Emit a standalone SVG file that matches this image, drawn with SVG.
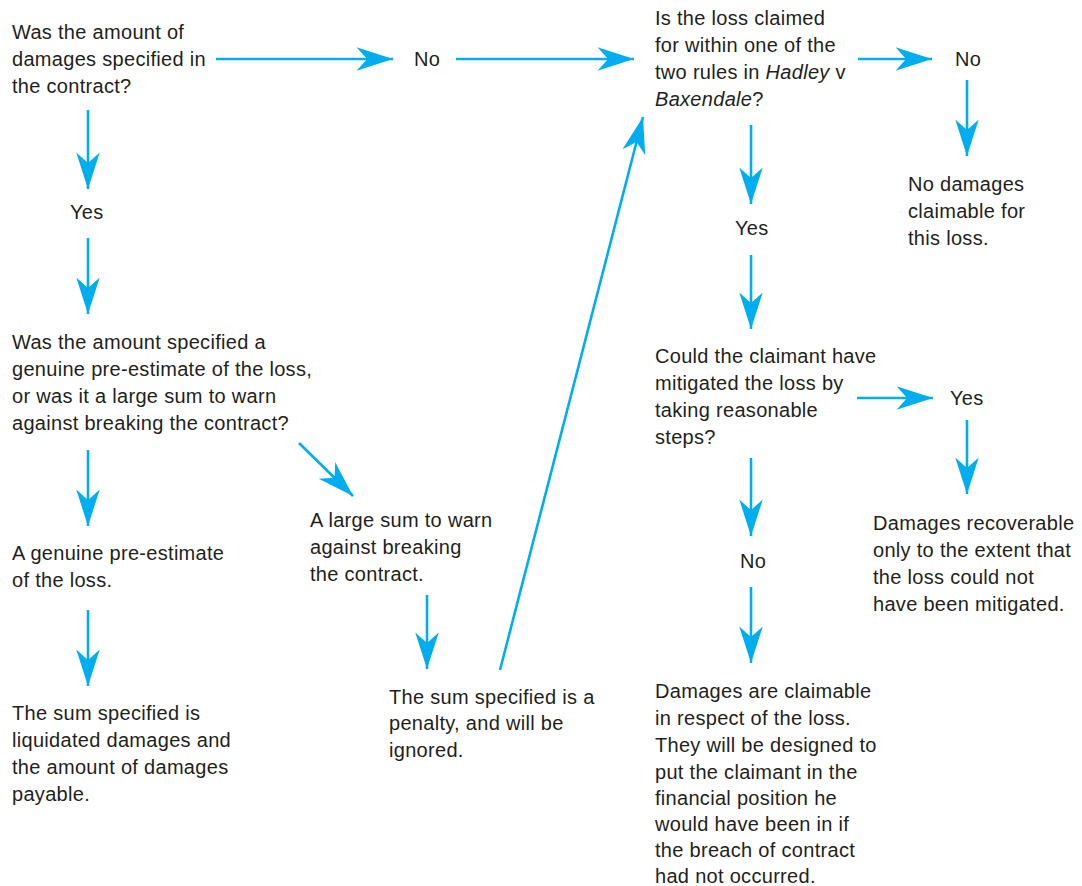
<svg xmlns="http://www.w3.org/2000/svg" width="1082" height="886" viewBox="0 0 1082 886">
<defs>
<style>
text{font-family:"Liberation Sans",Arial,sans-serif;font-size:20px;letter-spacing:0.3px;fill:#231f20}
.c line{stroke:#00aeef;stroke-width:2.6;fill:none}
</style>
<marker id="ah" markerUnits="userSpaceOnUse" markerWidth="40" markerHeight="30" viewBox="-32 -12 34 24" refX="0" refY="0" orient="auto">
<path d="M0,0 L-31,-10 L-22,0 L-31,10 Z" fill="#00aeef"/>
</marker>
</defs>
<rect width="1082" height="886" fill="#ffffff"/>
<g class="c" id="connectors">
<line x1="216" y1="59" x2="393" y2="59" marker-end="url(#ah)"/>
<line x1="456" y1="59" x2="634" y2="59" marker-end="url(#ah)"/>
<line x1="858" y1="59" x2="932" y2="59" marker-end="url(#ah)"/>
<line x1="967" y1="80" x2="967" y2="156" marker-end="url(#ah)"/>
<line x1="88" y1="110" x2="88" y2="189" marker-end="url(#ah)"/>
<line x1="88" y1="238" x2="88" y2="314" marker-end="url(#ah)"/>
<line x1="88" y1="450" x2="88" y2="526" marker-end="url(#ah)"/>
<line x1="88" y1="610" x2="88" y2="686" marker-end="url(#ah)"/>
<line x1="299" y1="443" x2="353" y2="496" marker-end="url(#ah)"/>
<line x1="427" y1="595" x2="427" y2="669" marker-end="url(#ah)"/>
<line x1="500" y1="670" x2="643" y2="117" marker-end="url(#ah)"/>
<line x1="751" y1="125" x2="751" y2="204" marker-end="url(#ah)"/>
<line x1="751" y1="255" x2="751" y2="329" marker-end="url(#ah)"/>
<line x1="857" y1="398" x2="933" y2="398" marker-end="url(#ah)"/>
<line x1="967" y1="420" x2="967" y2="494" marker-end="url(#ah)"/>
<line x1="751" y1="458" x2="751" y2="536" marker-end="url(#ah)"/>
<line x1="751" y1="587" x2="751" y2="663" marker-end="url(#ah)"/>
</g>
<g id="q1"><text x="12" y="39">Was the amount of</text><text x="12" y="66">damages specified in</text><text x="12" y="93">the contract?</text></g>
<g id="no1"><text x="414" y="66">No</text></g>
<g id="q2"><text x="655" y="25">Is the loss claimed</text><text x="655" y="52">for within one of the</text><text x="655" y="79">two rules in <tspan font-style="italic">Hadley</tspan> v</text><text x="655" y="106"><tspan font-style="italic">Baxendale</tspan>?</text></g>
<g id="no2"><text x="955" y="66">No</text></g>
<g id="nodamages"><text x="908" y="191">No damages</text><text x="908" y="218">claimable for</text><text x="908" y="245">this loss.</text></g>
<g id="yes1"><text x="70" y="219">Yes</text></g>
<g id="q3"><text x="12" y="349">Was the amount specified a</text><text x="12" y="376">genuine pre-estimate of the loss,</text><text x="12" y="403">or was it a large sum to warn</text><text x="12" y="430">against breaking the contract?</text></g>
<g id="genuine"><text x="12" y="560">A genuine pre-estimate</text><text x="12" y="587">of the loss.</text></g>
<g id="liquidated"><text x="12" y="720">The sum specified is</text><text x="12" y="747">liquidated damages and</text><text x="12" y="774">the amount of damages</text><text x="12" y="801">payable.</text></g>
<g id="largesum"><text x="310" y="527">A large sum to warn</text><text x="310" y="554">against breaking</text><text x="310" y="581">the contract.</text></g>
<g id="penalty"><text x="389" y="704">The sum specified is a</text><text x="389" y="730">penalty, and will be</text><text x="389" y="757">ignored.</text></g>
<g id="yes2"><text x="735" y="235">Yes</text></g>
<g id="q4"><text x="655" y="363">Could the claimant have</text><text x="655" y="390">mitigated the loss by</text><text x="655" y="417">taking reasonable</text><text x="655" y="444">steps?</text></g>
<g id="yes3"><text x="950" y="405">Yes</text></g>
<g id="recoverable"><text x="873" y="530">Damages recoverable</text><text x="873" y="557">only to the extent that</text><text x="873" y="584">the loss could not</text><text x="873" y="611">have been mitigated.</text></g>
<g id="no3"><text x="740" y="568">No</text></g>
<g id="claimable"><text x="655" y="698">Damages are claimable</text><text x="655" y="725">in respect of the loss.</text><text x="655" y="752">They will be designed to</text><text x="655" y="779">put the claimant in the</text><text x="655" y="805">financial position he</text><text x="655" y="831">would have been in if</text><text x="655" y="857">the breach of contract</text><text x="655" y="883">had not occurred.</text></g>
</svg>
